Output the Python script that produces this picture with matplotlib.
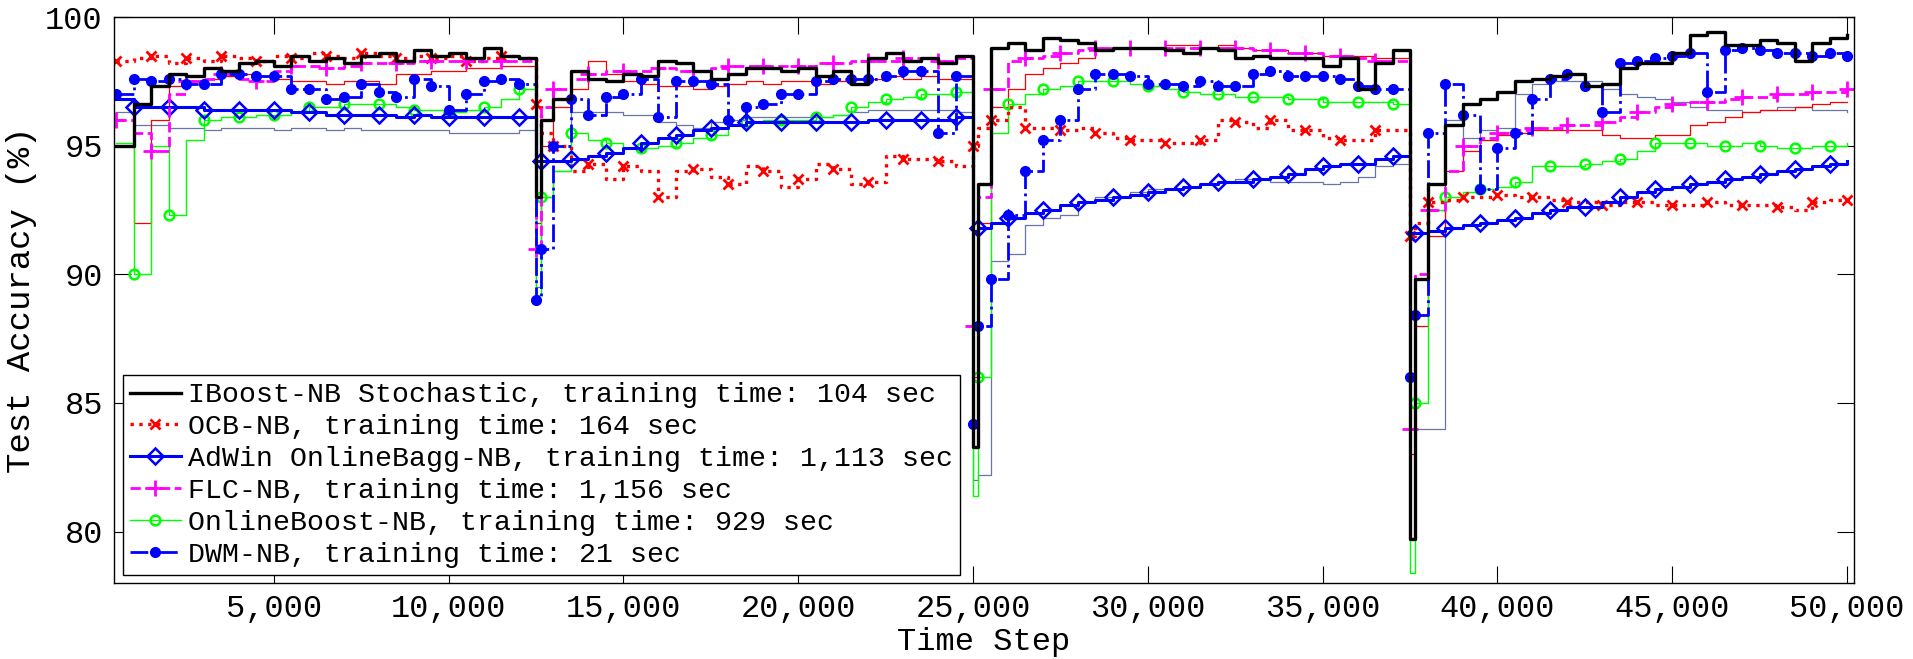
import numpy as np
import matplotlib
matplotlib.use('Agg')
import matplotlib.pyplot as plt
from matplotlib.ticker import FuncFormatter

plt.rcParams['font.family'] = ['Liberation Mono', 'DejaVu Sans Mono']

# evaluation points: every 500 steps, plus one extra point just after each drift
time_steps = np.concatenate([np.arange(500, 12501, 500), [12650],
                             np.arange(13000, 25001, 500), [25150],
                             np.arange(25500, 37501, 500), [37650],
                             np.arange(38000, 50001, 500)])

iboost = [95.0, 96.6, 97.3, 97.8, 97.7, 98.0, 97.9, 98.2, 98.3, 98.1, 98.5, 98.3,
          98.4, 98.2, 98.5, 98.6, 98.3, 98.7, 98.5, 98.6, 98.4, 98.8, 98.5, 98.4,
          93.0, 96.0,
          96.8, 97.9, 97.6, 97.5, 97.8, 97.7, 98.3, 98.2, 97.9, 97.6, 97.8, 98.0,
          98.0, 97.9, 98.0, 97.7, 97.9, 97.4, 98.4, 98.6, 98.3, 98.4, 98.2, 98.5,
          83.3, 93.5,
          98.8, 99.0, 98.7, 99.2, 99.1, 99.0, 98.7, 98.8, 98.8, 98.8, 98.7, 98.6,
          98.8, 98.7, 98.4, 98.5, 98.4, 98.4, 98.4, 98.1, 98.4, 97.2, 98.2, 98.7,
          79.7, 89.8,
          93.5, 95.8, 96.6, 96.8, 97.1, 97.5, 97.6, 97.7, 97.8, 97.3, 97.4, 98.0,
          98.2, 98.2, 98.6, 99.3, 99.4, 98.9, 98.9, 99.1, 99.0, 98.3, 99.0, 99.2, 99.3]

ocb = [98.3, 98.4, 98.5, 98.2, 98.4, 98.3, 98.5, 98.4, 98.3, 98.5, 98.4, 98.6,
       98.5, 98.4, 98.6, 98.5, 98.4, 98.5, 98.4, 98.5, 98.3, 98.4, 98.5, 98.4,
       96.6, 95.5,
       95.0, 94.0, 94.3, 93.7, 94.2, 94.0, 93.0, 94.0, 94.1, 93.8, 93.5, 94.2,
       94.0, 93.4, 93.7, 94.3, 94.1, 93.5, 93.6, 94.6, 94.5, 94.5, 94.4, 94.2,
       95.0, 95.7,
       96.0, 96.5, 95.7, 95.7, 95.6, 95.7, 95.5, 95.3, 95.2, 95.2, 95.1, 95.1,
       95.2, 96.0, 95.9, 95.7, 96.0, 95.6, 95.6, 95.3, 95.2, 95.2, 95.6, 95.6,
       91.5, 92.0,
       92.8, 92.9, 93.0, 93.0, 93.1, 93.0, 93.0, 92.9, 92.8, 92.8, 92.7, 92.8,
       92.8, 92.7, 92.7, 92.7, 92.8, 92.7, 92.7, 92.7, 92.6, 92.5, 92.8, 92.9, 92.9]

adwin = [96.8, 96.5, 96.5, 96.5, 96.5, 96.4, 96.4, 96.4, 96.4, 96.4, 96.3, 96.3,
         96.2, 96.2, 96.2, 96.2, 96.1, 96.2, 96.1, 96.1, 96.1, 96.1, 96.1, 96.1,
         94.4, 94.4,
         94.4, 94.5, 94.6, 94.7, 94.9, 95.1, 95.3, 95.4, 95.6, 95.7, 95.8, 95.9,
         95.9, 95.9, 95.9, 95.9, 95.9, 95.9, 96.0, 96.0, 96.0, 96.0, 96.0, 96.1,
         91.7, 91.8,
         92.0, 92.2, 92.4, 92.5, 92.7, 92.8, 92.9, 93.0, 93.1, 93.2, 93.3, 93.4,
         93.5, 93.6, 93.6, 93.7, 93.8, 93.9, 94.1, 94.2, 94.3, 94.3, 94.5, 94.6,
         91.6, 91.6,
         91.7, 91.8, 91.9, 92.0, 92.1, 92.2, 92.4, 92.5, 92.6, 92.6, 92.8, 93.0,
         93.2, 93.3, 93.4, 93.5, 93.6, 93.7, 93.8, 93.9, 94.0, 94.1, 94.2, 94.3, 94.4]

flc = [96.0, 95.5, 94.8, 97.0, 97.5, 97.6, 97.8, 97.6, 97.5, 97.9, 98.1, 98.1,
       98.0, 98.1, 98.2, 98.2, 98.2, 98.3, 98.3, 98.3, 98.3, 98.3, 98.3, 98.3,
       91.0, 96.5,
       97.2, 97.6, 97.8, 97.9, 97.9, 97.9, 98.0, 97.9, 97.9, 98.0, 98.1, 98.1,
       98.1, 98.1, 98.1, 98.2, 98.2, 98.3, 98.3, 98.3, 98.4, 98.4, 98.3, 98.4,
       88.0, 93.0,
       97.2, 98.3, 98.4, 98.5, 98.6, 98.7, 98.8, 98.8, 98.8, 98.8, 98.8, 98.8,
       98.8, 98.8, 98.8, 98.7, 98.7, 98.6, 98.6, 98.5, 98.5, 98.4, 98.3, 98.3,
       84.0, 90.0,
       92.5, 94.0, 95.0, 95.3, 95.5, 95.6, 95.7, 95.7, 95.8, 95.8, 95.9, 96.1,
       96.3, 96.5, 96.6, 96.7, 96.7, 96.8, 96.9, 96.9, 97.0, 97.0, 97.1, 97.1, 97.2]

onlineboost = [95.1, 90.0, 95.0, 92.3, 95.2, 96.0, 96.1, 96.1, 96.2, 96.2, 96.3, 96.5,
               96.5, 96.6, 96.6, 96.6, 96.5, 96.4, 96.4, 96.3, 96.4, 96.5, 96.8, 97.2,
               89.2, 93.0,
               94.0, 95.5, 95.2, 95.1, 94.9, 94.9, 95.0, 95.1, 95.3, 95.4, 95.8, 95.9,
               96.0, 96.0, 96.0, 96.1, 96.2, 96.5, 96.7, 96.8, 96.9, 97.0, 97.0, 97.1,
               81.4, 86.0,
               95.5, 96.6, 97.0, 97.2, 97.3, 97.5, 97.5, 97.5, 97.4, 97.3, 97.2, 97.1,
               97.0, 97.0, 96.9, 96.9, 96.9, 96.8, 96.8, 96.7, 96.7, 96.7, 96.7, 96.6,
               78.4, 85.0,
               92.5, 93.0, 93.2, 93.3, 93.4, 93.6, 94.2, 94.2, 94.2, 94.3, 94.4, 94.5,
               94.8, 95.1, 95.1, 95.1, 95.0, 95.0, 95.1, 95.0, 94.9, 94.9, 95.0, 95.0, 95.1]

dwm = [97.0, 97.6, 97.5, 97.6, 97.4, 97.4, 97.8, 97.8, 97.7, 97.7, 97.2, 97.2,
       96.8, 96.9, 97.4, 97.1, 96.9, 97.6, 97.3, 96.4, 97.0, 97.5, 97.6, 97.4,
       89.0, 91.0,
       95.0, 96.8, 96.2, 96.9, 97.0, 97.6, 96.1, 97.5, 97.5, 97.4, 96.0, 96.5,
       96.6, 97.0, 97.0, 97.5, 97.6, 97.6, 97.6, 97.7, 97.9, 97.9, 95.5, 97.7,
       84.2, 88.0,
       89.8, 92.3, 94.0, 95.2, 96.0, 97.2, 97.8, 97.8, 97.7, 97.4, 97.4, 97.3,
       97.5, 97.3, 97.3, 97.8, 97.9, 97.7, 97.7, 97.7, 97.6, 97.3, 97.2, 97.2,
       86.0, 88.4,
       95.5, 97.4, 96.2, 93.3, 94.9, 95.5, 96.8, 97.6, 97.8, 97.3, 96.3, 98.2,
       98.3, 98.4, 98.5, 98.6, 97.1, 98.7, 98.8, 98.7, 98.6, 98.6, 98.5, 98.6, 98.5]

# two extra thin curves drawn without legend entries
extra_red = [95.0, 92.0, 96.0, 97.3, 97.5, 97.6, 97.7, 97.8, 97.7, 97.6, 97.5, 97.5,
             97.4, 97.5, 97.5, 97.4, 97.8, 97.8, 97.9, 97.9, 98.0, 98.0, 98.1, 98.1,
             92.0, 95.0,
             96.5, 97.2, 98.3, 97.8, 97.5, 97.4, 97.3, 97.3, 97.2, 97.3, 97.4, 97.5,
             97.4, 97.5, 97.5, 97.4, 97.5, 97.6, 97.6, 97.7, 97.6, 97.7, 97.6, 97.6,
             86.0, 92.0,
             96.5, 97.2, 97.8, 98.0, 98.2, 98.4, 98.7, 98.8, 98.8, 98.8, 98.9, 98.9,
             98.8, 98.9, 98.8, 98.7, 98.7, 98.6, 98.6, 98.5, 98.5, 98.5, 98.4, 98.4,
             83.0, 88.0,
             91.5, 94.0, 94.8, 95.2, 95.4, 95.5, 95.6, 95.6, 95.6, 95.6, 95.4, 95.3,
             95.3, 95.4, 95.4, 95.8, 95.9, 96.1, 96.3, 96.4, 96.4, 96.5, 96.6, 96.7, 96.7]

extra_slate = [96.3, 95.8, 95.8, 95.7, 95.7, 95.6, 95.7, 95.7, 95.7, 95.6, 95.7, 95.7,
               95.6, 95.7, 95.6, 95.6, 95.6, 95.6, 95.6, 95.5, 95.5, 95.5, 95.5, 95.6,
               89.5, 93.0,
               94.0, 96.3, 96.3, 96.3, 96.2, 96.2, 95.9, 95.8, 95.7, 95.9, 96.0, 96.1,
               96.1, 96.1, 96.1, 96.1, 96.2, 96.3, 96.4, 96.4, 96.4, 96.4, 96.4, 96.3,
               82.0, 82.2,
               90.5, 90.8, 91.9, 92.2, 92.3, 92.8, 93.0, 93.0, 93.2, 93.3, 93.3, 93.4,
               93.5, 93.6, 93.7, 93.7, 93.6, 93.6, 93.6, 93.5, 93.6, 93.8, 94.2, 94.3,
               84.0, 84.0,
               84.0, 96.0, 95.3, 95.6, 95.7, 97.0, 97.4, 97.5, 97.5, 97.5, 97.2, 97.0,
               96.9, 96.8, 96.7, 96.5, 96.4, 96.4, 96.3, 96.4, 96.5, 96.5, 96.4, 96.4, 96.3]

labels = ['IBoost-NB Stochastic, training time: 104 sec',
          'OCB-NB, training time: 164 sec',
          'AdWin OnlineBagg-NB, training time: 1,113 sec',
          'FLC-NB, training time: 1,156 sec',
          'OnlineBoost-NB, training time: 929 sec',
          'DWM-NB, training time: 21 sec']

fig = plt.figure(figsize=(19.13, 6.59), dpi=100)
ax = fig.add_axes([0.0596, 0.1153, 0.9096, 0.8589])

ax.step(time_steps, extra_slate, where='post', color='#6676a6', lw=0.9, label='_nolegend_')
ax.step(time_steps, extra_red, where='post', color='#ff0000', lw=0.9, label='_nolegend_')

h_green, = ax.step(time_steps, onlineboost, where='post', color='#00ff00', lw=1.0,
                   marker='o', ms=7, mfc='none', mew=1.8, markevery=(1, 2))
h_ocb, = ax.step(time_steps, ocb, where='post', color='#ff0000', lw=2.4, ls=':',
                 marker='x', ms=7, mew=2, markevery=(0, 2))
h_adwin, = ax.step(time_steps, adwin, where='post', color='#0000ff', lw=2.2,
                   marker='D', ms=8, mfc='none', mew=1.8, markevery=(1, 2))
h_flc, = ax.step(time_steps, flc, where='post', color='#ff00ff', lw=2.0, ls='--',
                 marker='+', ms=12, mew=2, markevery=(0, 2))
h_dwm, = ax.step(time_steps, dwm, where='post', color='#0000ff', lw=2.0, ls='-.',
                 marker='o', ms=7, mfc='#0000ff', markevery=1)
h_black, = ax.step(time_steps, iboost, where='post', color='black', lw=2.4)

ax.legend([h_black, h_ocb, h_adwin, h_flc, h_green, h_dwm], labels,
          loc='lower left', bbox_to_anchor=(0.005, 0.014), borderaxespad=0,
          fancybox=False, edgecolor='black', framealpha=1, fontsize=20.3,
          handlelength=1.8, handletextpad=0.25, labelspacing=0.21,
          borderpad=0.25, numpoints=1)

ax.set_xlim(430, 50200)
ax.set_ylim(78, 100)
ax.set_xticks(np.arange(5000, 50001, 5000))
ax.set_yticks([80, 85, 90, 95, 100])
ax.xaxis.set_major_formatter(FuncFormatter(lambda v, p: f'{int(v):,}'))
ax.tick_params(direction='in', length=12, width=0.8, labelsize=23,
               top=True, right=True, pad=8)
for s in ax.spines.values():
    s.set_linewidth(1.0)

ax.set_xlabel('Time Step', fontsize=23, labelpad=2)
ax.set_ylabel('Test Accuracy (%)', fontsize=24.5, labelpad=6)

fig.savefig('out.png', dpi=100)
